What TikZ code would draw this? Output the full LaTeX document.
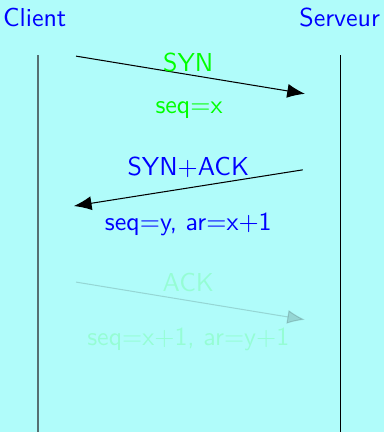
\documentclass[tikz,border=0pt]{standalone}
\usetikzlibrary{arrows.meta}
\definecolor{fond}{RGB}{176,252,250}
\definecolor{axe}{RGB}{85,112,114}
\begin{document}
\sffamily
\begin{tikzpicture}[
  x=1cm,y=1cm,
  msg/.style={-{Latex[length=2.4mm,width=1.9mm]}, line width=0.4pt},
  lbl/.style={inner sep=1pt}
]
\fill[fond] (0,0) rectangle (5.2,5.85);
\useasboundingbox (0,0) rectangle (5.2,5.85);

\node[blue] (client) at (0.47,5.61) {Client};
\node[blue] (serveur) at (4.60,5.61) {Serveur};

% lignes de vie
\coordinate (c0) at (0.51,5.10);
\coordinate (c1) at (0.51,0);
\coordinate (s0) at (4.61,5.10);
\coordinate (s1) at (4.61,0);
\draw[axe, line width=0.8pt] (c0) -- (c1);
\draw[black, line width=0.5pt] (s0) -- (s1);

% SYN
\coordinate (a1) at (1.03,5.09);
\coordinate (b1) at (4.13,4.58);
\draw[msg] (a1) -- (b1);
\node[lbl, green] (syn) at (2.55,5.01) {SYN};
\node[lbl, green] (seq1) at (2.56,4.36) {seq=x};

% SYN+ACK
\coordinate (a2) at (4.10,3.55);
\coordinate (b2) at (1.00,3.06);
\draw[msg] (a2) -- (b2);
\node[lbl, blue] (synack) at (2.55,3.59) {SYN+ACK};
\node[lbl, blue] (seq2) at (2.55,2.81) {seq=y, ar=x+1};

% ACK
\begin{scope}[opacity=0.15]
\coordinate (a3) at (1.03,2.03);
\coordinate (b3) at (4.13,1.52);
\draw[msg] (a3) -- (b3);
\node[lbl, green] (ack) at (2.55,2.02) {ACK};
\node[lbl, green] (seq3) at (2.55,1.25) {seq=x+1, ar=y+1};
\end{scope}
\end{tikzpicture}
\end{document}
